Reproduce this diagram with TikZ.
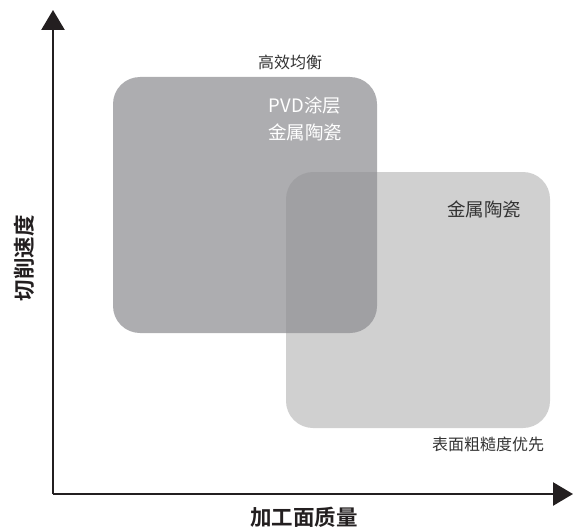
\documentclass[tikz,border=0pt]{standalone}
\usepackage{fontspec}
\setmainfont{Noto Sans CJK SC}
\newfontfamily\cjkbold{Noto Sans CJK SC Bold}
\usetikzlibrary{arrows.meta}
\definecolor{axisc}{HTML}{231F20}
\definecolor{txtc}{HTML}{333333}
\definecolor{darkbox}{RGB}{142,142,146}
\definecolor{lightbox}{HTML}{D0D0D0}
\tikzset{
  axis/.style={line width=2.6pt, draw=axisc, -{Triangle[length=20pt,width=23pt]}},
  region/.style={rounded corners=27pt, draw=none},
  lbl/.style={text=txtc, inner sep=0pt, font=\fontsize{16}{19}\selectfont},
  biglbl/.style={inner sep=0pt, font=\fontsize{18.5}{27}\selectfont, align=center},
  axlbl/.style={text=axisc, inner sep=0pt, font=\cjkbold\fontsize{21.5}{24}\selectfont}
}
\begin{document}
\begin{tikzpicture}[x=1pt,y=-1pt]
\useasboundingbox (0,0) rectangle (573,527);
% regions
\fill[region, fill=lightbox] (286,172) rectangle (550,428);
\fill[region, fill=darkbox, fill opacity=0.72] (113,77) rectangle (377,333);
% axes
\coordinate (o) at (53,494);
\coordinate (ytip) at (53,10);
\coordinate (xtip) at (573,494);
\draw[axis] (o) -- (ytip);
\draw[axis] (o) -- (xtip);
% labels
\node[lbl] (top) at (290,62) {高效均衡};
\node[biglbl, text=white] (pvd) at (305,119) {PVD涂层\\金属陶瓷};
\node[biglbl, text=txtc] (cermet) at (484,209) {金属陶瓷};
\node[lbl] (rough) at (488,444) {表面粗糙度优先};
\node[axlbl] (xl) at (304,517) {加工面质量};
\node[axlbl, rotate=90] (yl) at (24,258) {切削速度};
\end{tikzpicture}
\end{document}
